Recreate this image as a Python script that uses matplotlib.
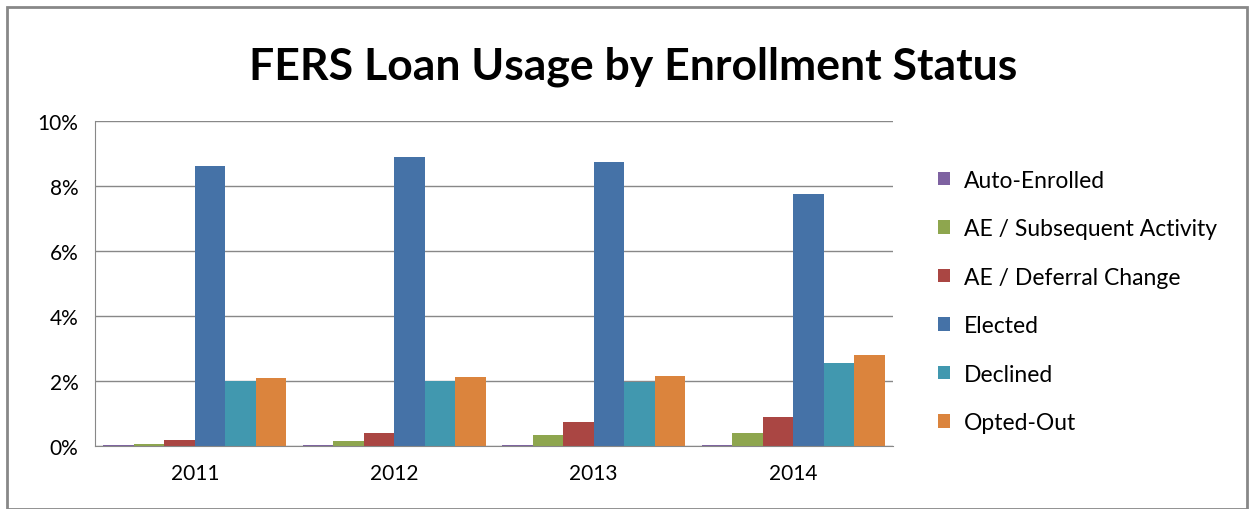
import matplotlib.pyplot as plt
import numpy as np
from matplotlib.patches import Rectangle

plt.rcParams["font.family"] = ["Lato", "DejaVu Sans"]

years = ["2011", "2012", "2013", "2014"]
series = [
    "Auto-Enrolled",
    "AE / Subsequent Activity",
    "AE / Deferral Change",
    "Elected",
    "Declined",
    "Opted-Out",
]
auto_enrolled = [0.04, 0.04, 0.04, 0.04]
ae_subsequent = [0.05, 0.16, 0.34, 0.41]
ae_deferral = [0.17, 0.40, 0.73, 0.89]
elected = [8.62, 8.88, 8.73, 7.75]
declined = [2.00, 2.01, 1.96, 2.54]
opted_out = [2.10, 2.13, 2.14, 2.81]
values = [auto_enrolled, ae_subsequent, ae_deferral, elected, declined, opted_out]
colors = ["#7E62A1", "#8EA64E", "#AA4643", "#4572A7", "#4198AF", "#DB843D"]

fig = plt.figure(figsize=(12.54, 5.10), dpi=100)
ax = fig.add_axes([95 / 1254, 63 / 510, 798 / 1254, 325 / 510])

x = np.arange(len(years))
w = 0.153
for i, (name, vals, c) in enumerate(zip(series, values, colors)):
    ax.bar(x + (i - 2.5) * w, vals, w, color=c, label=name, zorder=2)

ax.set_xlim(-0.5, 3.5)
ax.set_ylim(0, 10)
ax.set_yticks(range(0, 11, 2))
ax.set_yticklabels([f"{v}%" for v in range(0, 11, 2)], fontsize=15)
ax.set_xticks(x)
ax.set_xticklabels(years, fontsize=15)
ax.tick_params(axis="both", length=0, pad=12)
ax.grid(axis="y", color="#888888", linewidth=1, zorder=0)
for s in ["top", "right"]:
    ax.spines[s].set_visible(False)
for s in ["left", "bottom"]:
    ax.spines[s].set_color("#888888")

fig.text(0.505, 0.845, "FERS Loan Usage by Enrollment Status", ha="center",
         fontsize=32, fontweight="bold")

ax.legend(loc="center left", bbox_to_anchor=(1.03, 0.445), frameon=False,
          fontsize=16.5, handlelength=0.55, handleheight=0.55, labelspacing=1.2,
          handletextpad=0.6)

fig.patches.append(Rectangle((7 / 1254, 0), 1240 / 1254, 502 / 510,
                             transform=fig.transFigure, fill=False,
                             edgecolor="#888888", linewidth=2))

fig.savefig("out.png", dpi=100)
